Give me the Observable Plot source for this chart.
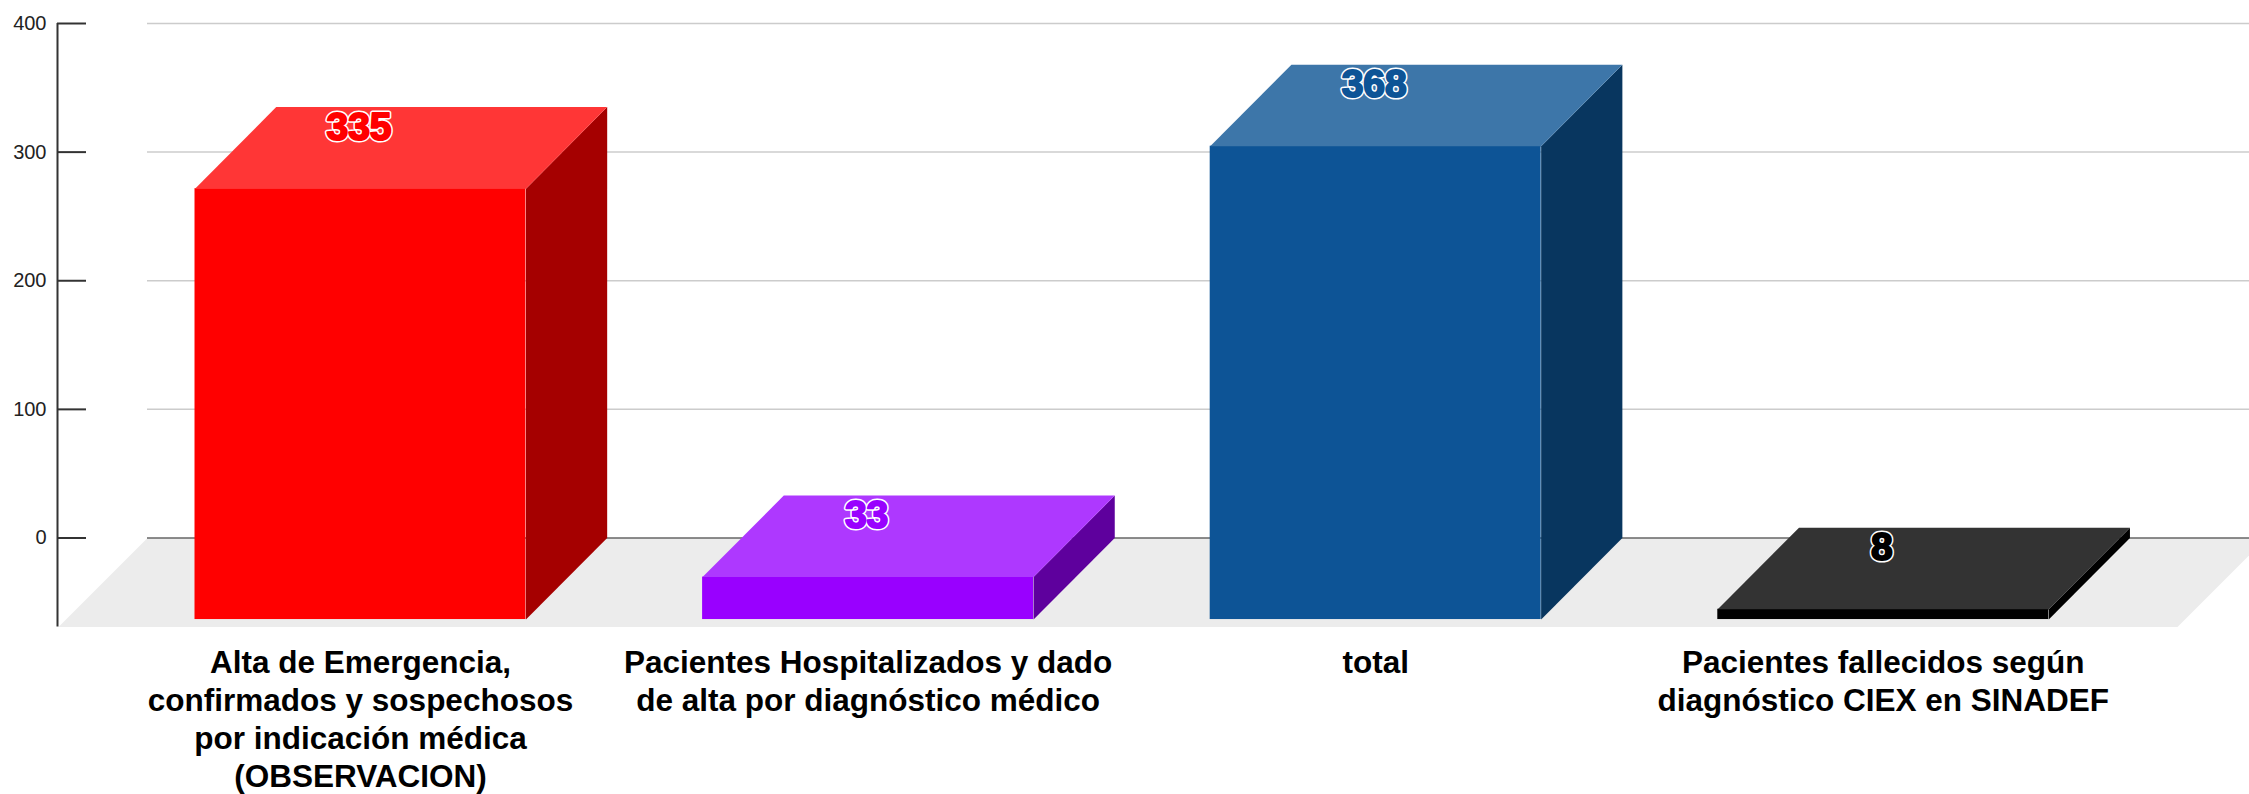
<!DOCTYPE html>
<html>
<head>
<meta charset="utf-8">
<script src="https://cdn.jsdelivr.net/npm/d3@7"></script>
<script src="https://cdn.jsdelivr.net/npm/@observablehq/plot@0.6"></script>
<style>
html,body{margin:0;padding:0;background:#fff;}
svg{display:block;}
</style>
</head>
<body>
<div id="chart"></div>
<script>
const categories = [
  "Alta de Emergencia,\nconfirmados y sospechosos\npor indicación médica\n(OBSERVACION)",
  "Pacientes Hospitalizados y dado\nde alta por diagnóstico médico",
  "total",
  "Pacientes fallecidos según\ndiagnóstico CIEX en SINADEF"
];
const values = [335, 33, 368, 8];
const frontColors = ["#ff0000", "#9900ff", "#0d5496", "#000000"];
const topColors = ["#ff3636", "#ae38ff", "#3d76a9", "#333333"];
const sideColors = ["#a50000", "#5e009d", "#08365f", "#000000"];
const yTicks = [0, 100, 200, 300, 400];

const halfBar = 0.326, depthX = 0.16, depthY = 63.4;
const floorDepthX = 0.1753, floorDepthY = 69.2;
const floorLeft = -0.4196, floorRight = 3.755;

const bars = values.map((v, i) => ({i, v, front: frontColors[i]}));
const topFaces = values.flatMap((v, i) => [
  [i - halfBar, v - depthY], [i + halfBar, v - depthY],
  [i + halfBar + depthX, v], [i - halfBar + depthX, v]
].map(([x, y]) => ({x, y, id: i, fill: topColors[i]})));
const sideFaces = values.flatMap((v, i) => [
  [i + halfBar, -depthY], [i + halfBar, v - depthY],
  [i + halfBar + depthX, v], [i + halfBar + depthX, 0]
].map(([x, y]) => ({x, y, id: i, fill: sideColors[i]})));
const floorFace = [
  {x: floorLeft, y: 0}, {x: floorRight, y: 0},
  {x: floorRight - floorDepthX, y: -floorDepthY}, {x: floorLeft - floorDepthX, y: -floorDepthY}
];
const xMin = -0.5969, xMax = 3.7215;

const face = (data) => Plot.line(data, {x: "x", y: "y", z: "id", fill: "fill", stroke: null, curve: "linear"});

const chart = Plot.plot({
  width: 2249,
  height: 794,
  marginLeft: 57,
  marginRight: 0,
  marginTop: 0,
  marginBottom: 167,
  style: {background: "#fff", fontFamily: "'Liberation Sans', Arial, sans-serif", overflow: "hidden"},
  x: {type: "linear", domain: [xMin, xMax], range: [57, 2249]},
  y: {type: "linear", domain: [-199.03, 418.27], range: [793.5, -0.5]},
  marks: [
    Plot.line(floorFace, {x: "x", y: "y", fill: "#ececec", stroke: null}),
    Plot.ruleY(yTicks.filter(t => t > 0), {x1: floorLeft, x2: xMax, stroke: "#cccccc", strokeWidth: 1.5}),
    Plot.ruleY([0], {x1: floorLeft, x2: xMax, stroke: "#666666", strokeWidth: 1.5}),
    Plot.ruleX([xMin], {y1: -floorDepthY, y2: 400, stroke: "#333333", strokeWidth: 2}),
    Plot.axisY({
      ticks: yTicks, tickSize: -29, tickPadding: 40, stroke: "#333333", strokeWidth: 2,
      tickFormat: d => String(d), label: null, fontSize: 20, fill: "#222222", strokeOpacity: 1
    }),
    Plot.axisX({
      ticks: [0, 1, 2, 3], tickFormat: i => categories[i], tickSize: 0, tickPadding: 19,
      label: null, fontSize: 31.5, fontWeight: "bold", fill: "#000000", lineHeight: 1.206, textOverflow: null
    }),
    Plot.rectY(bars, {
      x1: d => d.i - halfBar, x2: d => d.i + halfBar,
      y1: () => -depthY, y2: d => d.v - depthY, fill: "front", inset: 0
    }),
    face(sideFaces),
    face(topFaces),
    Plot.text(bars, {
      x: "i", y: "v", dx: -1.5, dy: 20, text: d => String(d.v), fontSize: 39, fontWeight: "bold",
      fill: "#ffffff", stroke: "#ffffff", strokeWidth: 5, strokeLinejoin: "round"
    }),
    Plot.text(bars, {
      x: "i", y: "v", dx: -1.5, dy: 20, text: d => String(d.v), fontSize: 39, fontWeight: "bold",
      fill: "front", stroke: "front", strokeWidth: 2, strokeLinejoin: "round"
    })
  ]
});
document.getElementById("chart").appendChild(chart);
</script>
</body>
</html>
